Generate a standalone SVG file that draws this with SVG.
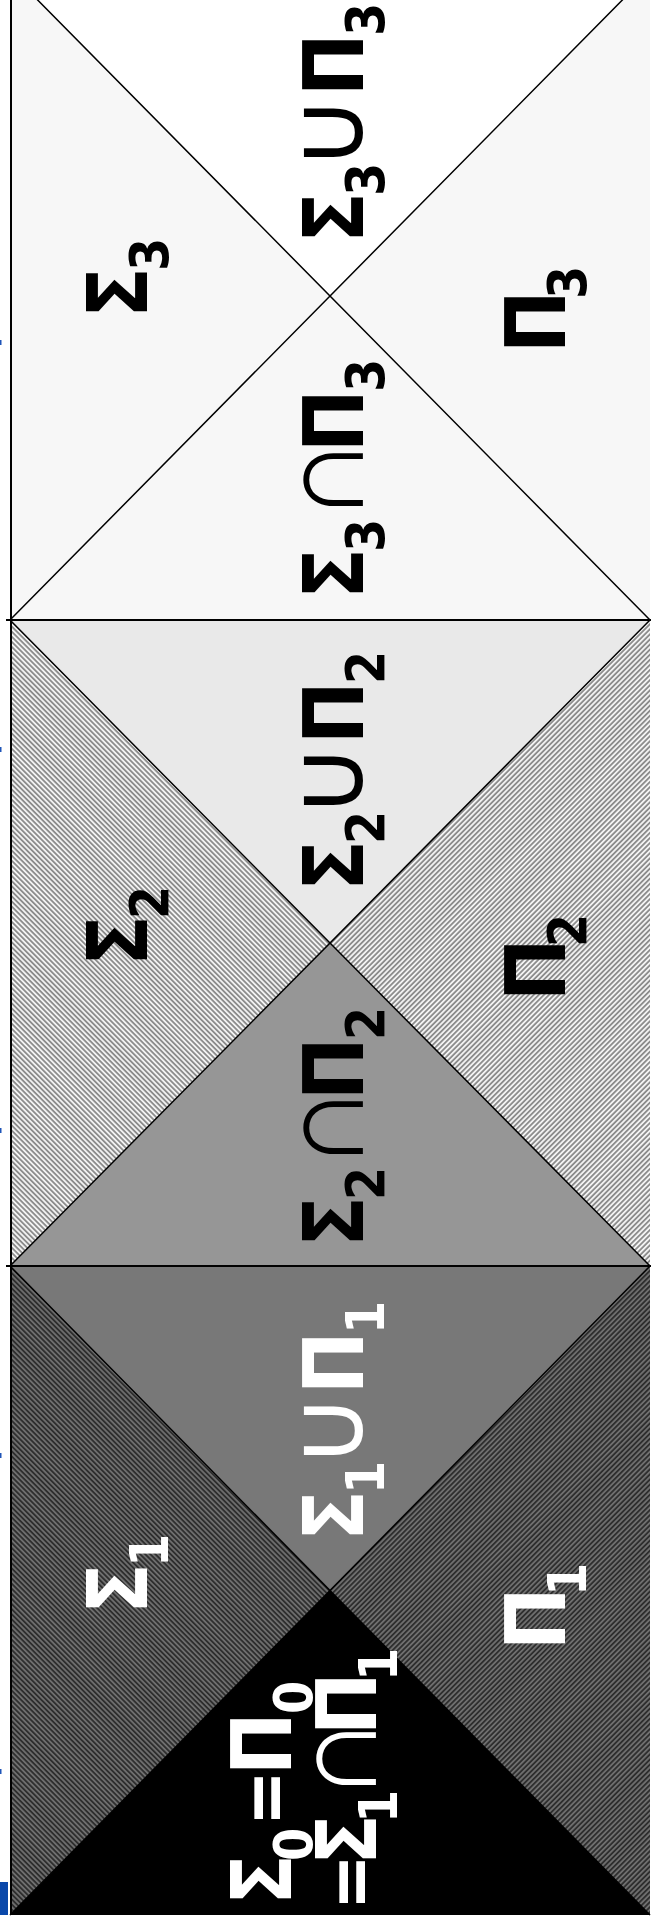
<svg xmlns="http://www.w3.org/2000/svg" width="651" height="1925" viewBox="0 0 651 1925">
<style>
.lbl{font-family:"DejaVu Sans Condensed","DejaVu Sans",sans-serif;font-weight:bold;font-size:83px;fill:#000}
.w{fill:#fff}
.sub{font-size:53px}
.op{font-family:"DejaVu Sans",sans-serif;font-weight:200;font-size:118px}
.opu{font-family:"DejaVu Sans",sans-serif;font-weight:normal;font-size:102px}
.eq{font-size:74px}
.diag{stroke:#000;stroke-width:1.5;fill:none}
.sep{stroke:#000;stroke-width:2.2;fill:none}
</style>
<defs>
<pattern id="hlL" patternUnits="userSpaceOnUse" width="3.6" height="3.6" patternTransform="rotate(-45)">
<rect width="3.6" height="3.6" fill="#f2f2f2"/><rect width="1.8" height="3.6" fill="#8c8c8c"/>
</pattern>
<pattern id="hlR" patternUnits="userSpaceOnUse" width="3.6" height="3.6" patternTransform="rotate(45)">
<rect width="3.6" height="3.6" fill="#f2f2f2"/><rect width="1.8" height="3.6" fill="#8c8c8c"/>
</pattern>
<pattern id="hdL" patternUnits="userSpaceOnUse" width="3.6" height="3.6" patternTransform="rotate(-45)">
<rect width="3.6" height="3.6" fill="#6e6e6e"/><rect width="1.8" height="3.6" fill="#2e2e2e"/>
</pattern>
<pattern id="hdR" patternUnits="userSpaceOnUse" width="3.6" height="3.6" patternTransform="rotate(45)">
<rect width="3.6" height="3.6" fill="#6e6e6e"/><rect width="1.8" height="3.6" fill="#2e2e2e"/>
</pattern>
</defs>
<rect width="651" height="1925" fill="#fff"/>

<g id="level3">
<polygon points="10,-28 650,-28 330,296" fill="#ffffff"/>
<polygon points="10,-28 330,296 10,620" fill="#f7f7f7"/>
<polygon points="650,-28 330,296 650,620" fill="#f7f7f7"/>
<polygon points="10,620 330,296 650,620" fill="#f7f7f7"/>
</g>
<g id="level2">
<polygon points="10,620 650,620 330,943" fill="#e9e9e9"/>
<polygon points="10,620 330,943 10,1266" fill="url(#hlL)"/>
<polygon points="650,620 330,943 650,1266" fill="url(#hlR)"/>
<polygon points="10,1266 330,943 650,1266" fill="#969696"/>
</g>
<g id="level1">
<polygon points="10,1266 650,1266 330,1590" fill="#787878"/>
<polygon points="10,1266 330,1590 10,1915" fill="url(#hdL)"/>
<polygon points="650,1266 330,1590 650,1915" fill="url(#hdR)"/>
<polygon points="10,1915 330,1590 650,1915" fill="#000"/>
</g>

<g id="connectors">
<path class="diag" d="M10,-28 L650,620 M650,-28 L10,620"/>
<path class="diag" d="M10,620 L650,1266 M650,620 L10,1266"/>
<path class="diag" d="M10,1266 L650,1915 M650,1266 L10,1915"/>
<path class="sep" d="M6,620 L651,620 M6,1266 L651,1266"/>
<path d="M11,0 L11,1915" stroke="#000" stroke-width="2"/>
</g>

<g id="marks" fill="#1f55b8">
<rect x="0" y="340" width="1.5" height="5"/>
<rect x="0" y="747" width="1.5" height="5"/>
<rect x="0" y="1128" width="1.5" height="5"/>
<rect x="0" y="1453" width="1.5" height="5"/>
<rect x="0" y="1769" width="1.5" height="5"/>
<rect x="0" y="1882" width="8" height="33" fill="#0a48aa"/>
</g>

<g id="n-sigma3"><text class="lbl" transform="translate(147,315) rotate(-90)"><tspan x="-3" y="0">Σ</tspan><tspan class="sub" x="44" y="21">3</tspan></text></g>
<g id="n-union3"><text class="lbl" transform="translate(363,240) rotate(-90)"><tspan x="-3" y="0">Σ</tspan><tspan class="sub" x="44" y="21">3</tspan><tspan class="opu" x="70" y="0">∪</tspan><tspan x="144" y="0">Π</tspan><tspan class="sub" x="204" y="21">3</tspan></text></g>
<g id="n-pi3"><text class="lbl" transform="translate(565,346) rotate(-90)"><tspan x="-7" y="0">Π</tspan><tspan class="sub" x="47" y="21">3</tspan></text></g>
<g id="n-inter3"><text class="lbl" transform="translate(363,596) rotate(-90)"><tspan x="-3" y="0">Σ</tspan><tspan class="sub" x="44" y="21">3</tspan><tspan class="op" x="74" y="0">∩</tspan><tspan x="144" y="0">Π</tspan><tspan class="sub" x="204" y="21">3</tspan></text></g>

<g id="n-union2"><text class="lbl" transform="translate(363,888) rotate(-90)"><tspan x="-3" y="0">Σ</tspan><tspan class="sub" x="44" y="21">2</tspan><tspan class="opu" x="70" y="0">∪</tspan><tspan x="144" y="0">Π</tspan><tspan class="sub" x="204" y="21">2</tspan></text></g>
<g id="n-sigma2"><text class="lbl" transform="translate(147,963) rotate(-90)"><tspan x="-3" y="0">Σ</tspan><tspan class="sub" x="44" y="21">2</tspan></text></g>
<g id="n-pi2"><text class="lbl" transform="translate(565,994) rotate(-90)"><tspan x="-7" y="0">Π</tspan><tspan class="sub" x="47" y="21">2</tspan></text></g>
<g id="n-inter2"><text class="lbl" transform="translate(363,1244) rotate(-90)"><tspan x="-3" y="0">Σ</tspan><tspan class="sub" x="44" y="21">2</tspan><tspan class="op" x="74" y="0">∩</tspan><tspan x="144" y="0">Π</tspan><tspan class="sub" x="204" y="21">2</tspan></text></g>

<g id="n-union1"><text class="lbl w" transform="translate(363,1538) rotate(-90)"><tspan x="-3" y="0">Σ</tspan><tspan class="sub" x="44" y="21">1</tspan><tspan class="opu" x="70" y="0">∪</tspan><tspan x="144" y="0">Π</tspan><tspan class="sub" x="204" y="21">1</tspan></text></g>
<g id="n-sigma1"><text class="lbl w" transform="translate(147,1611) rotate(-90)"><tspan x="-3" y="0">Σ</tspan><tspan class="sub" x="44" y="21">1</tspan></text></g>
<g id="n-pi1"><text class="lbl w" transform="translate(565,1643) rotate(-90)"><tspan x="-7" y="0">Π</tspan><tspan class="sub" x="47" y="21">1</tspan></text></g>
<g id="n-delta1">
<text class="lbl w" transform="translate(291,1902) rotate(-90)"><tspan x="-3" y="0">Σ</tspan><tspan class="sub" x="41" y="21">0</tspan><tspan class="eq" x="76" y="0">=</tspan><tspan x="127" y="0">Π</tspan><tspan class="sub" x="188" y="21">0</tspan></text>
<text class="lbl w" transform="translate(376,1903) rotate(-90)"><tspan class="eq" x="-7" y="0">=</tspan><tspan x="38" y="0">Σ</tspan><tspan class="sub" x="80" y="21">1</tspan><tspan class="op" x="102" y="0">∩</tspan><tspan x="168" y="0">Π</tspan><tspan class="sub" x="222" y="21">1</tspan></text>
</g>
</svg>
